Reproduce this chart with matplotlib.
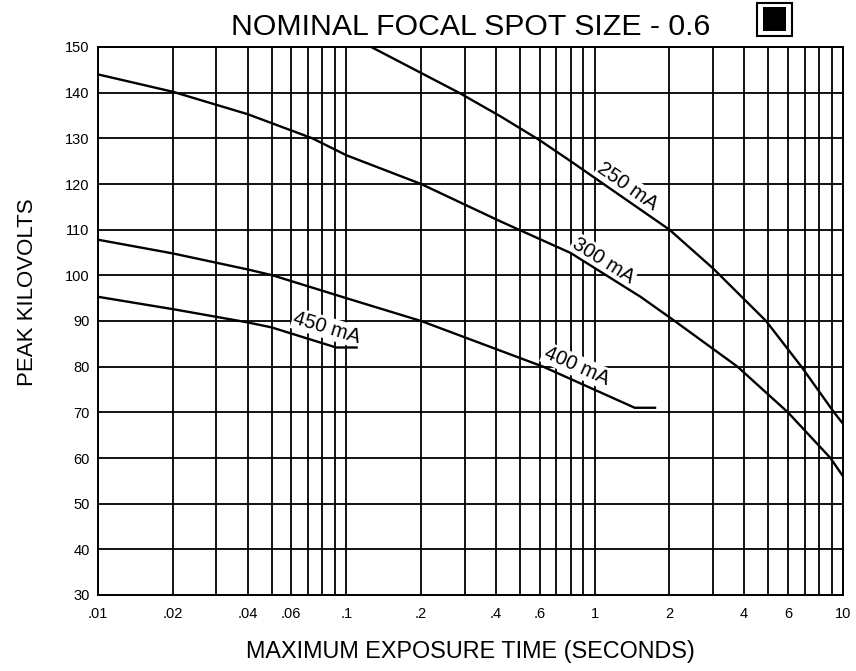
import matplotlib
matplotlib.use("Agg")
import matplotlib.pyplot as plt
from matplotlib.ticker import FixedLocator, LogLocator, NullFormatter
from matplotlib.patches import Rectangle

plt.rcParams['font.family'] = ['Liberation Sans', 'DejaVu Sans']

# curves (exposure time in s, peak kV)
t_250 = [0.126, 0.284, 0.418, 0.6, 0.8, 2.0, 3.0, 4.9, 6.8, 9.2, 10]
kv_250 = [150, 140, 134.8, 129.6, 125, 110, 101.5, 90, 80, 70, 67.5]

t_300 = [0.01, 0.02, 0.04, 0.073, 0.1, 0.2, 0.418, 0.8, 1.53, 2.1, 3.76, 6.0, 8.9, 10]
kv_300 = [144, 140.2, 135.3, 130, 126.3, 120, 111.8, 104.9, 95.3, 90, 80, 70, 60, 56]

t_400 = [0.01, 0.02, 0.04, 0.0505, 0.1, 0.2, 0.62, 1.45, 1.75]
kv_400 = [107.8, 104.8, 101.3, 100, 95, 90, 80, 71, 71]

t_450 = [0.01, 0.02, 0.04, 0.05, 0.091, 0.11]
kv_450 = [95.3, 92.6, 89.7, 88.6, 84.2, 84.2]

labels = ["250 mA", "300 mA", "400 mA", "450 mA"]
label_t = [1.36, 1.087, 0.845, 0.0837]
label_kv = [119.4, 103.3, 80.2, 88.5]
label_rot = [-35, -32, -24, -17]

xticks = [.01, .02, .04, .06, .1, .2, .4, .6, 1, 2, 4, 6, 10]
xticklabels = [".01", ".02", ".04", ".06", ".1", ".2", ".4", ".6", "1", "2", "4", "6", "10"]
yticks = list(range(30, 151, 10))

fig = plt.figure(figsize=(8.56, 6.71), dpi=100)
ax = fig.add_axes([98 / 856, 1 - 595 / 671, 745 / 856, 548 / 671])

ax.set_xscale("log")
ax.set_xlim(0.01, 10)
ax.set_ylim(30, 150)

ax.xaxis.set_major_locator(FixedLocator(xticks))
ax.set_xticklabels(xticklabels)
ax.xaxis.set_minor_locator(LogLocator(base=10, subs=range(1, 10)))
ax.xaxis.set_minor_formatter(NullFormatter())
ax.set_yticks(yticks)

ax.tick_params(which="both", length=0, labelsize=10.5)
ax.tick_params(axis="x", pad=9)
ax.tick_params(axis="y", pad=6)

ax.set_axisbelow(True)
ax.grid(True, which="both", color="black", lw=1.3)
for s in ax.spines.values():
    s.set_linewidth(1.4)

for t, kv in [(t_250, kv_250), (t_300, kv_300), (t_400, kv_400), (t_450, kv_450)]:
    ax.plot(t, kv, color="black", lw=1.7, zorder=3)

for txt, x, y, r in zip(labels, label_t, label_kv, label_rot):
    ax.text(x, y, txt, rotation=r, rotation_mode="anchor", ha="center", va="center",
            fontsize=14.5, zorder=2,
            bbox=dict(facecolor="white", edgecolor="none", pad=1))

ax.set_xlabel("MAXIMUM EXPOSURE TIME (SECONDS)", fontsize=16.8)
ax.xaxis.label.set_va("baseline")
ax.xaxis.set_label_coords(0.5, -0.115)
ax.set_ylabel("PEAK KILOVOLTS", fontsize=16)
ax.yaxis.label.set_va("baseline")
ax.yaxis.set_label_coords(-0.0872, 0.553)

fig.text(471 / 856, 1 - 35 / 671, "NOMINAL FOCAL SPOT SIZE - 0.6",
         ha="center", va="baseline", fontsize=21.8)

# boxed black square next to the title
fig.patches.append(Rectangle((757 / 856, 1 - 36 / 671), 35 / 856, 33 / 671,
                             transform=fig.transFigure, facecolor="white",
                             edgecolor="black", lw=1.5))
fig.patches.append(Rectangle((763 / 856, 1 - 31 / 671), 23 / 856, 24 / 671,
                             transform=fig.transFigure, facecolor="black",
                             edgecolor="none"))

fig.savefig("out.png", dpi=100)
